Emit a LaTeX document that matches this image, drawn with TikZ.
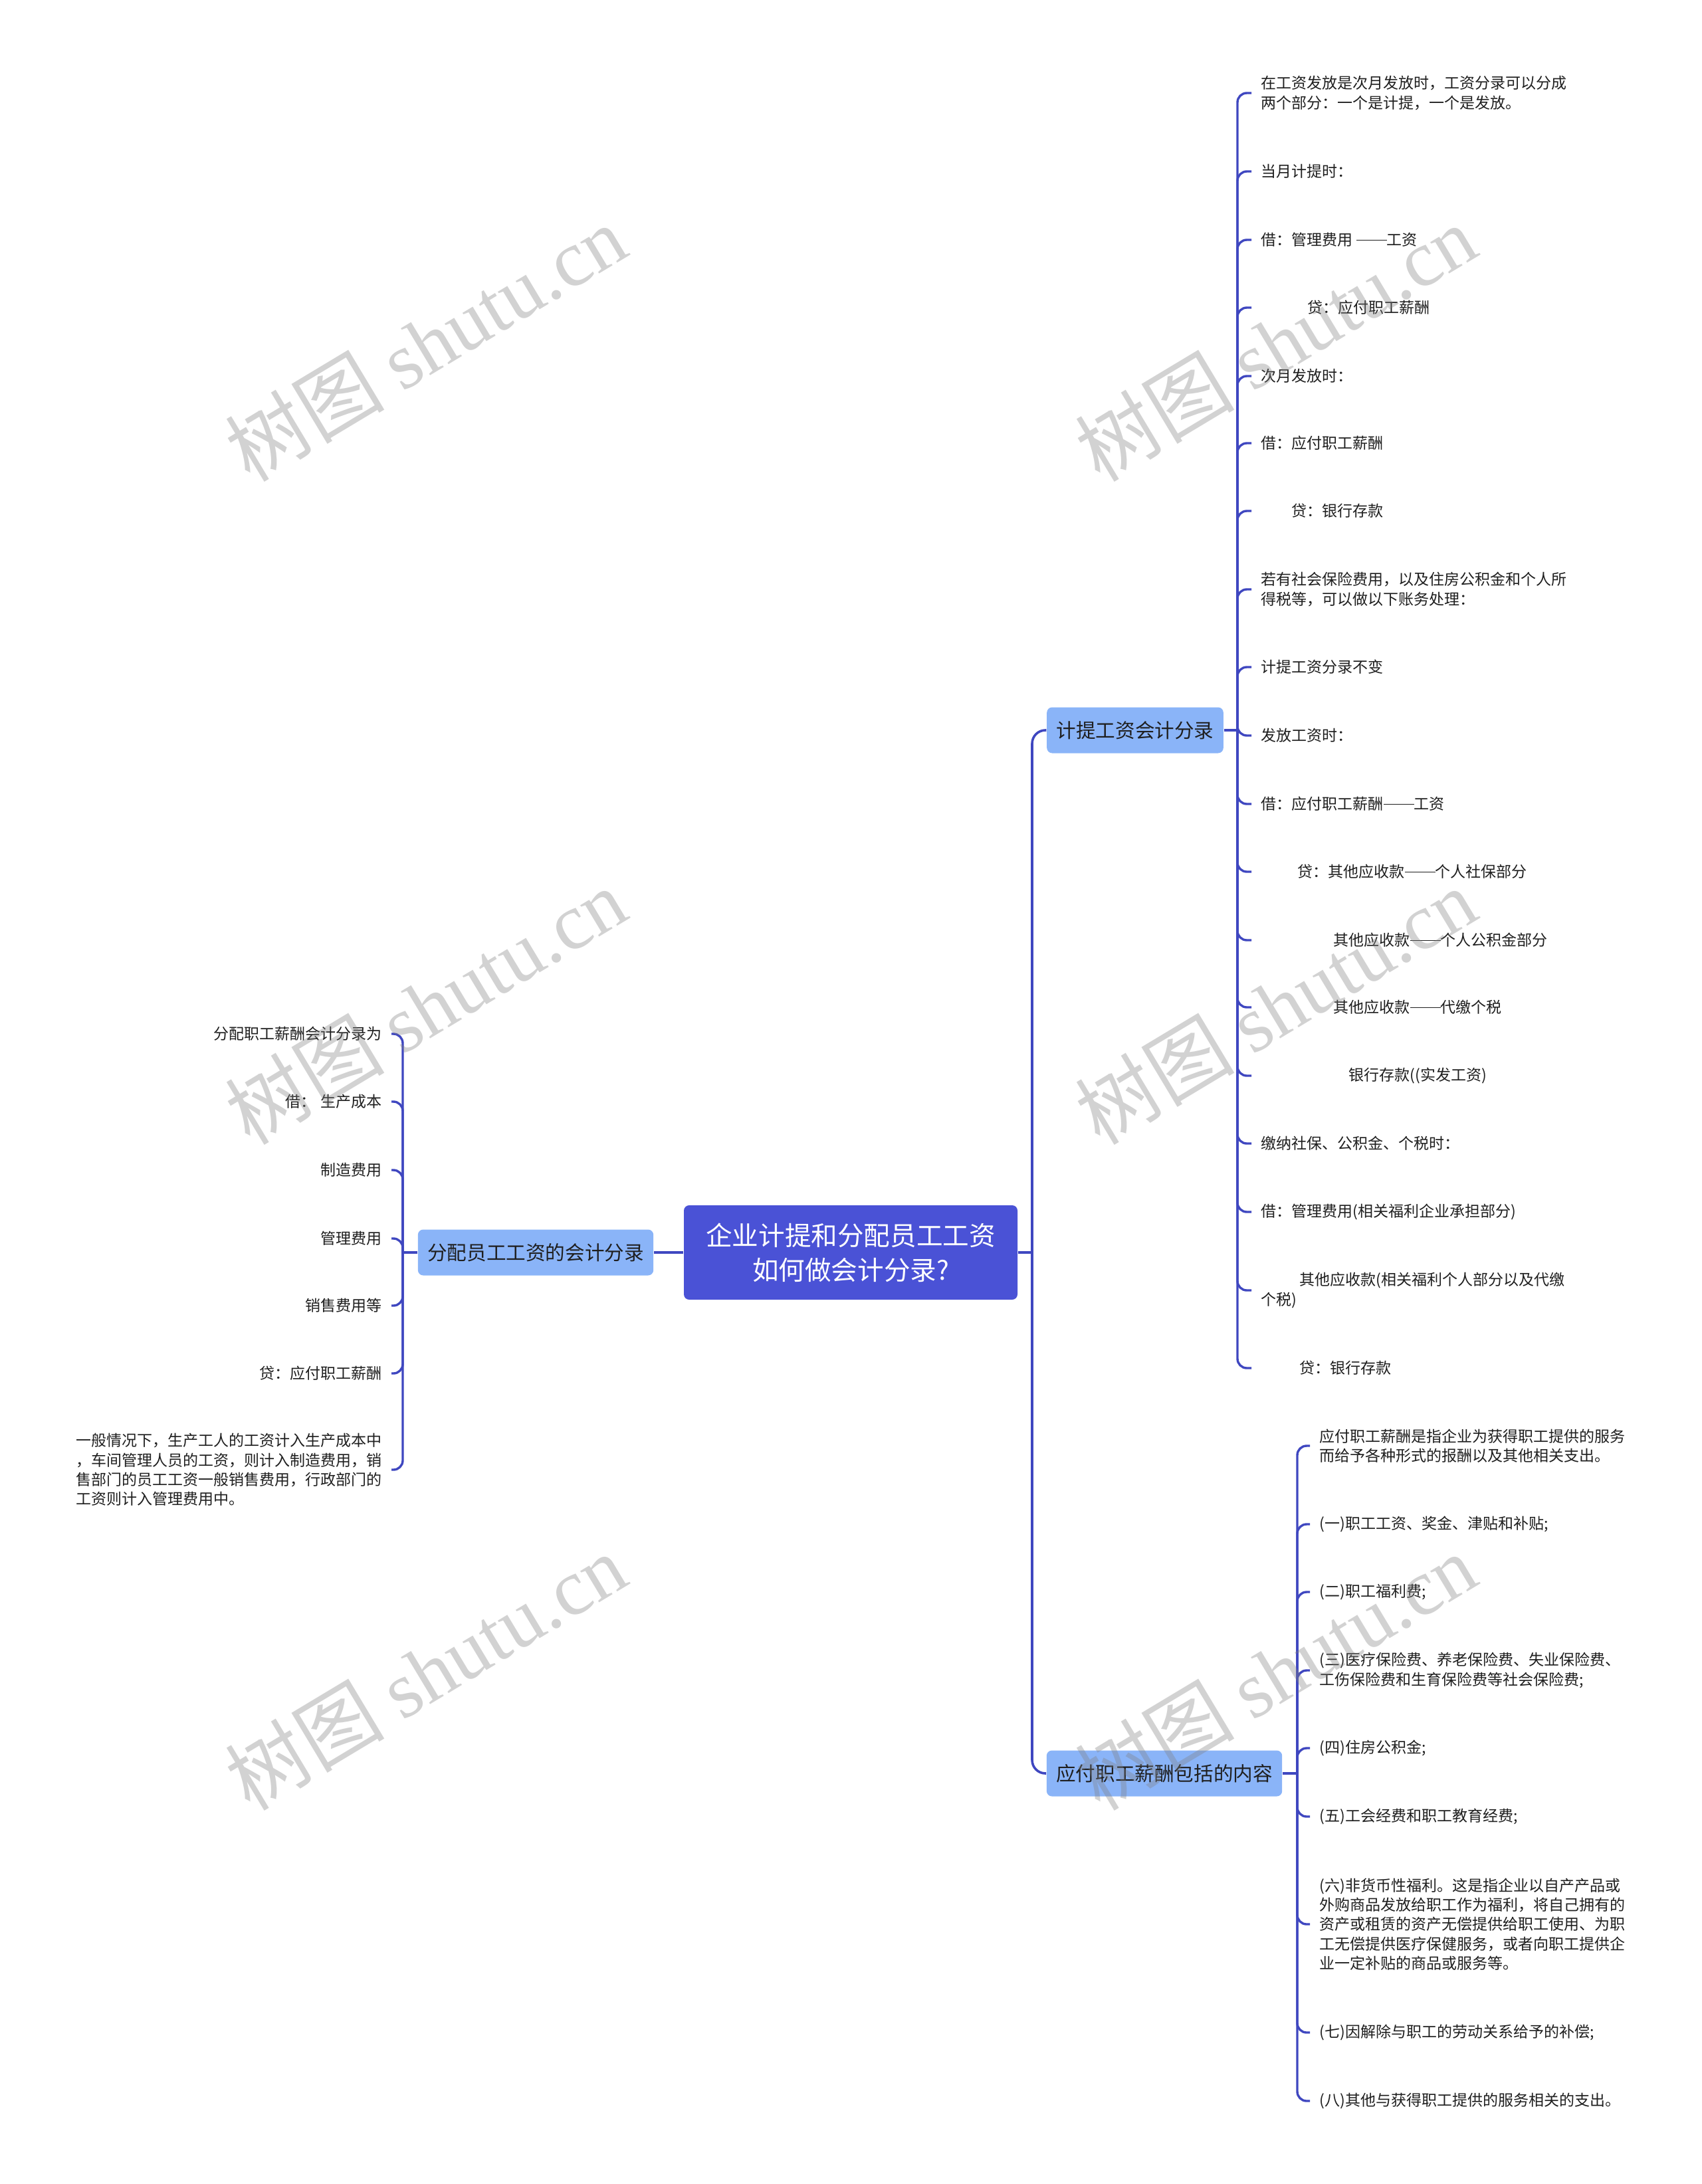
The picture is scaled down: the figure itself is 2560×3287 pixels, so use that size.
\documentclass[tikz,border=0pt]{standalone}
\usepackage{fontspec}
\setmainfont{Noto Sans CJK SC}
\newfontfamily\wmlatin{Liberation Serif}
\newcommand\cjkdash{\rule[0.33em]{2em}{0.055em}}
\definecolor{rootblue}{HTML}{4A52D6}
\definecolor{lvlblue}{HTML}{8AB4F8}
\definecolor{linec}{HTML}{3F47C0}
\definecolor{txt}{HTML}{1F1F1F}
\begin{document}
\begin{tikzpicture}[x=0.25pt,y=-0.25pt,
  conn/.style={draw=linec, line width=0.85pt, rounded corners=3.5pt},
  trunk/.style={draw=linec, line width=0.9pt, rounded corners=5pt},
  rootbox/.style={fill=rootblue, rounded corners=2pt, text=white, minimum width=125.5pt, minimum height=35.5pt, align=center, inner sep=0pt, font=\fontsize{9.9pt}{13pt}\selectfont},
  lvbox/.style={fill=lvlblue, rounded corners=2pt, text=txt, minimum height=17.25pt, inner xsep=3.6pt, inner ysep=0pt, font=\fontsize{7.4pt}{9pt}\selectfont},
  leafr/.style={anchor=west, inner xsep=3.5pt, inner ysep=0pt, align=left, text=txt, font=\fontsize{5.75pt}{7.35pt}\selectfont},
  leafl/.style={anchor=east, inner xsep=3.5pt, inner ysep=0pt, align=left, text=txt, font=\fontsize{5.75pt}{7.35pt}\selectfont},
  wm/.style={rotate=31, text=gray, opacity=0.35, inner sep=0pt, font=\fontsize{30pt}{30pt}\selectfont}
]
\fill[white] (0,0) rectangle (2560,3287);
\useasboundingbox (0,0) rectangle (2560,3287);

% main nodes
\node[rootbox] (root) at (1280,1885) {企业计提和分配员工工资\\如何做会计分录?};
\node[lvbox] (jt) at (1708,1099) {计提工资会计分录};
\node[lvbox] (yf) at (1752,2669) {应付职工薪酬包括的内容};
\node[lvbox] (fp) at (806,1885) {分配员工工资的会计分录};

\coordinate (rj) at (1553,1885);
\coordinate (jtj) at (1862,1099);
\coordinate (yfj) at (1952,2669);
\coordinate (fpj) at (606,1885);

% leaves of jt
\node[leafr] (a1) at (1883,140) {在工资发放是次月发放时，工资分录可以分成\\两个部分：一个是计提，一个是发放。};
\node[leafr] (a2) at (1883,258) {当月计提时：};
\node[leafr] (a3) at (1883,361) {借：管理费用\ \cjkdash 工资};
\node[leafr] (a4) at (1883,463) {\hspace*{17.5pt}贷：应付职工薪酬};
\node[leafr] (a5) at (1883,566) {次月发放时：};
\node[leafr] (a6) at (1883,667) {借：应付职工薪酬};
\node[leafr] (a7) at (1883,769) {\hspace*{11.5pt}贷：银行存款};
\node[leafr] (a8) at (1883,887) {若有社会保险费用，以及住房公积金和个人所\\得税等，可以做以下账务处理：};
\node[leafr] (a9) at (1883,1004) {计提工资分录不变};
\node[leafr] (a10) at (1883,1107) {发放工资时：};
\node[leafr] (a11) at (1883,1210) {借：应付职工薪酬\cjkdash 工资};
\node[leafr] (a12) at (1883,1312) {\hspace*{13.75pt}贷：其他应收款\cjkdash 个人社保部分};
\node[leafr] (a13) at (1883,1415) {\hspace*{27.25pt}其他应收款\cjkdash 个人公积金部分};
\node[leafr] (a14) at (1883,1516) {\hspace*{27.25pt}其他应收款\cjkdash 代缴个税};
\node[leafr] (a15) at (1883,1619) {\hspace*{33pt}银行存款((实发工资)};
\node[leafr] (a16) at (1883,1721) {缴纳社保、公积金、个税时：};
\node[leafr] (a17) at (1883,1824) {借：管理费用(相关福利企业承担部分)};
\node[leafr] (a18) at (1883,1942) {\hspace*{14.5pt}其他应收款(相关福利个人部分以及代缴\\个税)};
\node[leafr] (a19) at (1883,2059) {\hspace*{14.5pt}贷：银行存款};

% leaves of yf
\node[leafr] (b1) at (1971,2176) {应付职工薪酬是指企业为获得职工提供的服务\\而给予各种形式的报酬以及其他相关支出。};
\node[leafr] (b2) at (1971,2294) {(一)职工工资、奖金、津贴和补贴;};
\node[leafr] (b3) at (1971,2396) {(二)职工福利费;};
\node[leafr] (b4) at (1971,2514) {(三)医疗保险费、养老保险费、失业保险费、\\工伤保险费和生育保险费等社会保险费;};
\node[leafr] (b5) at (1971,2631) {(四)住房公积金;};
\node[leafr] (b6) at (1971,2734) {(五)工会经费和职工教育经费;};
\node[leafr] (b7) at (1971,2896) {(六)非货币性福利。这是指企业以自产产品或\\外购商品发放给职工作为福利，将自己拥有的\\资产或租赁的资产无偿提供给职工使用、为职\\工无偿提供医疗保健服务，或者向职工提供企\\业一定补贴的商品或服务等。};
\node[leafr] (b8) at (1971,3059) {(七)因解除与职工的劳动关系给予的补偿;};
\node[leafr] (b9) at (1971,3162) {(八)其他与获得职工提供的服务相关的支出。};

% leaves of fp
\node[leafl] (c1) at (589,1556) {分配职工薪酬会计分录为};
\node[leafl] (c2) at (589,1658) {借：\hspace{0.3em}生产成本};
\node[leafl] (c3) at (589,1761) {制造费用};
\node[leafl] (c4) at (589,1864) {管理费用};
\node[leafl] (c5) at (589,1965) {销售费用等};
\node[leafl] (c6) at (589,2067) {贷：应付职工薪酬};
\node[leafl] (c7) at (589,2212) {一般情况下，生产工人的工资计入生产成本中\\，车间管理人员的工资，则计入制造费用，销\\售部门的员工工资一般销售费用，行政部门的\\工资则计入管理费用中。};

% connectors
\draw[trunk] (root.east) -- (rj);
\draw[trunk] (rj) |- (jt.west);
\draw[trunk] (rj) |- (yf.west);
\draw[trunk] (root.west) -- (fp.east);

\draw[conn] (jt.east) -- (jtj);
\foreach \n in {a1,a2,a3,a4,a5,a6,a7,a8,a9,a10,a11,a12,a13,a14,a15,a16,a17,a18,a19}
  \draw[conn] (jtj) |- (\n.west);
\draw[conn] (yf.east) -- (yfj);
\foreach \n in {b1,b2,b3,b4,b5,b6,b7,b8,b9}
  \draw[conn] (yfj) |- (\n.west);
\draw[conn] (fp.west) -- (fpj);
\foreach \n in {c1,c2,c3,c4,c5,c6,c7}
  \draw[conn] (fpj) |- (\n.east);

% watermarks
\node[wm] (w1) at (640,516) {树图 {\wmlatin shutu.cn}};
\node[wm] (w2) at (1919,516) {树图 {\wmlatin shutu.cn}};
\node[wm] (w3) at (640,1514) {树图 {\wmlatin shutu.cn}};
\node[wm] (w4) at (1919,1514) {树图 {\wmlatin shutu.cn}};
\node[wm] (w5) at (640,2516) {树图 {\wmlatin shutu.cn}};
\node[wm] (w6) at (1919,2516) {树图 {\wmlatin shutu.cn}};
\end{tikzpicture}
\end{document}
